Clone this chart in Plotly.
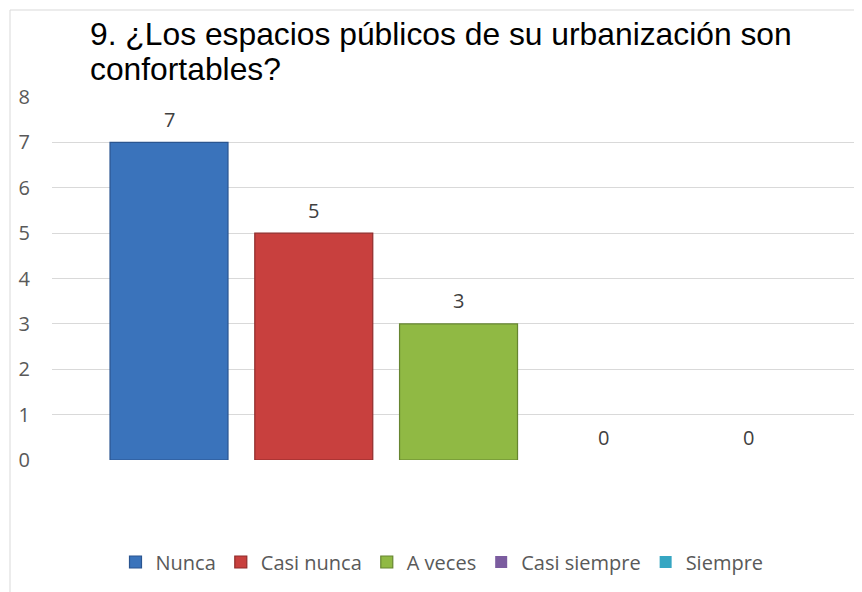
import plotly.graph_objects as go

categories = ["Nunca", "Casi nunca", "A veces", "Casi siempre", "Siempre"]
values = [7, 5, 3, 0, 0]
colors = ["#3a73bb", "#c8403e", "#90b944", "#7b5c9f", "#36a6c2"]
edge_colors = ["#2a5590", "#8f2b2a", "#668530", "#58407a", "#26788d"]
y_ticks = [0, 1, 2, 3, 4, 5, 6, 7, 8]
title_lines = ["9. ¿Los espacios públicos de su urbanización son", "confortables?"]

W, H = 854, 584
L, R, T, B = 44, 0, 89, 132
pw = W - L - R
ph = H - T - B


def px_x(x):
    return (x - L) / pw


def px_y(y):
    return (H - B - y) / ph


fig = go.Figure()
for i, (c, v) in enumerate(zip(categories, values)):
    fig.add_trace(go.Bar(
        x=[i], y=[v], name=c, width=0.815,
        marker=dict(color=colors[i],
                    line=dict(color=edge_colors[i], width=1.2 if v > 0 else 0)),
        hoverinfo="skip",
    ))
    fig.add_annotation(x=i, y=v, xref="x", yref="y", text=str(v), showarrow=False,
                       yshift=23, font=dict(family="Open Sans", size=20, color="#404040"))

for k, line in enumerate(title_lines):
    fig.add_annotation(xref="paper", yref="paper", x=px_x(80),
                       y=px_y([45.5, 81][k]), xanchor="left", yanchor="bottom",
                       text=line, showarrow=False,
                       font=dict(family="Liberation Sans", size=31.8, color="#000000"))

# chart outer border (left and top)
fig.add_shape(type="line", xref="paper", yref="paper", x0=px_x(2), x1=px_x(2),
              y0=px_y(700), y1=px_y(2), line=dict(color="#d9d9d9", width=1))
fig.add_shape(type="line", xref="paper", yref="paper", x0=px_x(2), x1=px_x(900),
              y0=px_y(2), y1=px_y(2), line=dict(color="#d9d9d9", width=1))

fig.update_layout(
    width=W, height=H,
    margin=dict(l=L, r=R, t=T, b=B, pad=0),
    paper_bgcolor="white", plot_bgcolor="white",
    barmode="overlay",
    showlegend=True,
    legend=dict(orientation="h", x=px_x(434), xanchor="center",
                y=px_y(554), yanchor="middle",
                font=dict(family="Open Sans", size=20, color="#595959"),
                traceorder="normal", itemwidth=30),
    xaxis=dict(range=[-0.8083, 4.787], showticklabels=False, showgrid=False,
               zeroline=False, showline=False, ticks=""),
    yaxis=dict(range=[0, 8], tickvals=y_ticks, showgrid=True, gridcolor="#d9d9d9",
               gridwidth=1, zeroline=False, showline=False, ticks="",
               tickfont=dict(family="Open Sans", size=20, color="#595959"),
               ticklabelstandoff=21),
)

fig.write_html("out.html")
